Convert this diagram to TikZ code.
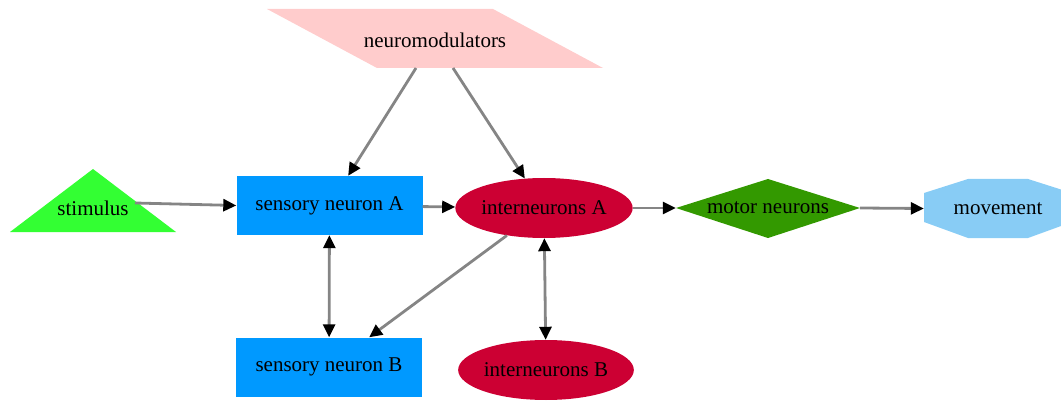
\documentclass[tikz,border=0pt]{standalone}
\usepackage{fontspec}
\setmainfont{Liberation Serif}
\usetikzlibrary{shapes.geometric,arrows.meta}
\definecolor{nmpink}{HTML}{FFCCCC}
\definecolor{stimgreen}{HTML}{33FF33}
\definecolor{sensblue}{HTML}{0099FF}
\definecolor{interred}{HTML}{CC0033}
\definecolor{motorgreen}{HTML}{339900}
\definecolor{moveblue}{HTML}{88CCF5}
\definecolor{edgegray}{HTML}{858585}
\begin{document}
\begin{tikzpicture}[x=1pt,y=-1pt,
  every node/.style={font=\fontsize{21}{24}\selectfont, inner sep=0pt},
  sensbox/.style={rectangle, fill=sensblue, minimum width=186pt, minimum height=59pt},
  interell/.style={ellipse, fill=interred, minimum width=170pt, minimum height=60pt},
  edge/.style={draw=edgegray, line width=2.8pt, -{Triangle[length=13pt,width=12pt,black]}},
  biedge/.style={draw=edgegray, line width=2.8pt, {Triangle[length=13pt,width=12pt,black]}-{Triangle[length=13pt,width=12pt,black]}}]
\useasboundingbox (0,0) rectangle (1061,401);
\begin{scope}
\clip (0,0) rectangle (1061,401);
% neuromodulators parallelogram
\fill[nmpink] (267,9) -- (493,9) -- (603,68) -- (377,68) -- cycle;
% stimulus triangle
\fill[stimgreen] (93,169) -- (176,232) -- (10,232) -- cycle;
% motor neurons diamond
\fill[motorgreen] (676,208) -- (768,179) -- (860,208) -- (768,238) -- cycle;
% movement octagon
\fill[moveblue] (924,193) -- (968,179) -- (1028,179) -- (1072,193) -- (1072,222) -- (1028,238) -- (968,238) -- (924,222) -- cycle;
\end{scope}

\node (neuro) at (435,40) {neuromodulators};
\node (stim) at (93,208) {stimulus};
\node[sensbox] (senA) at (329.5,205.5) {sensory neuron A};
\node[interell] (intA) at (544,208) {interneurons A};
\node[rectangle, minimum width=184pt, minimum height=59pt] (motor) at (768,208) {motor neurons};
\node[rectangle, minimum width=148pt, minimum height=59pt] (move) at (998,208.5) {movement};
\node[sensbox] (senB) at (329,367) {sensory neuron B};
\node[interell] (intB) at (546,370) {interneurons B};

\coordinate (nmL) at (416,68);
\coordinate (nmR) at (453,68);
\coordinate (stimE) at (135,203);

\draw[edge] (nmL) -- (senA);
\draw[edge] (nmR) -- (intA);
\draw[edge] (stimE) -- (senA.west);
\draw[edge] (senA) -- (intA);
\draw[edge] (intA) -- (motor);
\draw[edge] (motor.east) -- (move.west);
\draw[edge] (intA) -- (senB);
\draw[biedge] (senA) -- (senB);
\draw[biedge] (intA) -- (intB);
\end{tikzpicture}
\end{document}
